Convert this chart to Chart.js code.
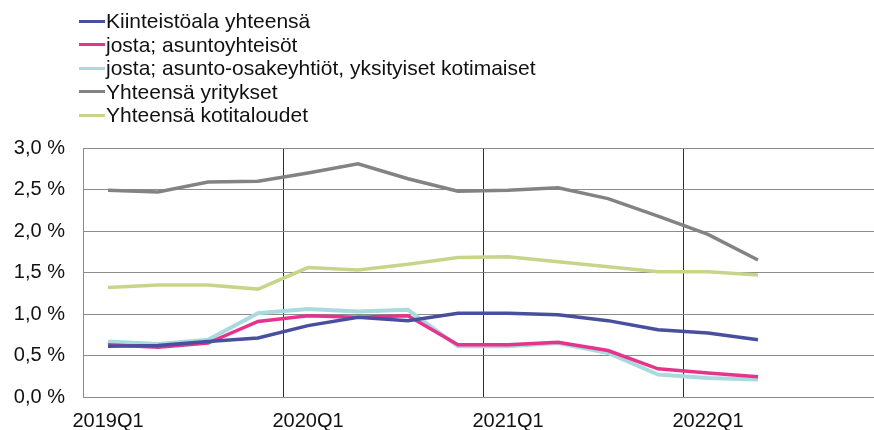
<!DOCTYPE html>
<html>
<head>
<meta charset="utf-8">
<script src="https://cdn.jsdelivr.net/npm/chart.js@4"></script>
<style>
    html, body { margin: 0; padding: 0; background: #fff; overflow: hidden; }
    #wrap { position: absolute; left: 0; top: 0; width: 900px; height: 430px; }
    #legend {
        position: absolute; left: 79px; top: 9px;
        font-family: "Liberation Sans", Arial, sans-serif; font-size: 21px; color: #111;
    }
    .item { height: 23.5px; line-height: 23.5px; white-space: nowrap; }
    .swatch { display: inline-block; width: 26px; height: 3px; vertical-align: middle; margin-right: 1px; position: relative; top: -1px; }
</style>
</head>
<body>
<div id="wrap">
    <canvas id="chart" width="900" height="430"></canvas>
</div>
<div id="legend"></div>
<script>
// quarters on the x axis (last two are empty)
const quarters = [
    "2019Q1", "2019Q2", "2019Q3", "2019Q4",
    "2020Q1", "2020Q2", "2020Q3", "2020Q4",
    "2021Q1", "2021Q2", "2021Q3", "2021Q4",
    "2022Q1", "2022Q2", "2022Q3", "2022Q4"
];

// series, percent
const kiinteistoala = [0.61, 0.62, 0.67, 0.71, 0.86, 0.96, 0.92, 1.01, 1.01, 0.99, 0.92, 0.81, 0.77, 0.69];
const asuntoyhteisot = [0.63, 0.60, 0.65, 0.91, 0.98, 0.96, 0.98, 0.63, 0.63, 0.66, 0.56, 0.34, 0.29, 0.245];
const asuntoOsakeyhtiot = [0.67, 0.64, 0.69, 1.01, 1.06, 1.03, 1.05, 0.61, 0.61, 0.65, 0.53, 0.27, 0.23, 0.21];
const yritykset = [2.49, 2.47, 2.59, 2.60, 2.70, 2.81, 2.63, 2.48, 2.49, 2.52, 2.39, 2.18, 1.96, 1.65];
const kotitaloudet = [1.32, 1.35, 1.35, 1.30, 1.56, 1.53, 1.60, 1.68, 1.69, 1.63, 1.57, 1.51, 1.51, 1.47];

const seriesNames = [
    "Kiinteistöala yhteensä",
    "josta; asuntoyhteisöt",
    "josta; asunto-osakeyhtiöt, yksityiset kotimaiset",
    "Yhteensä yritykset",
    "Yhteensä kotitaloudet"
];
const seriesColors = ["#484f9f", "#e6338b", "#a9dade", "#838383", "#c5d68b"];
const seriesData = [kiinteistoala, asuntoyhteisot, asuntoOsakeyhtiot, yritykset, kotitaloudet];

/* ===== LEGEND ===== */
const legend = document.getElementById("legend");
seriesNames.forEach((name, i) => {
    const row = document.createElement("div");
    row.className = "item";
    row.innerHTML = `<span class="swatch" style="background:${seriesColors[i]}"></span>${name}`;
    legend.appendChild(row);
});

/* ===== CHART ===== */
const font = { family: "'Liberation Sans', Arial, sans-serif", size: 20 };

// draw order: gray and green first, then blue, pink, light blue on top
const order = [3, 4, 0, 1, 2];

new Chart(document.getElementById("chart"), {
    type: "line",
    data: {
        labels: quarters,
        datasets: order.map(i => ({
            label: seriesNames[i],
            data: seriesData[i],
            borderColor: seriesColors[i],
            backgroundColor: seriesColors[i],
            borderWidth: i === 2 ? 4 : 3.5,
            pointRadius: 0,
            tension: 0,
            fill: false
        }))
    },
    options: {
        responsive: false,
        animation: false,
        layout: { padding: { top: 148, right: 17, left: 0, bottom: 0 } },
        plugins: { legend: { display: false }, tooltip: { enabled: false } },
        scales: {
            x: {
                offset: true,
                grid: {
                    offset: true,
                    drawTicks: false,
                    lineWidth: 1,
                    color: ctx => (ctx.index > 0 && ctx.index % 4 === 0) ? "#2e2e2e" : "rgba(0,0,0,0)"
                },
                border: { color: "#8c8c8c", width: 1 },
                ticks: {
                    autoSkip: false,
                    maxRotation: 0,
                    color: "#111",
                    font: font,
                    padding: 12,
                    callback: function (v, i) { return i % 4 === 0 ? quarters[i] : ""; }
                },
                afterFit: s => { s.height = 33; }
            },
            y: {
                min: 0,
                max: 3,
                grid: { drawTicks: false, color: "#8c8c8c", lineWidth: 1 },
                border: { color: "#8c8c8c", width: 1 },
                ticks: {
                    stepSize: 0.5,
                    color: "#111",
                    font: font,
                    padding: 18,
                    callback: v => v.toFixed(1).replace(".", ",") + " %"
                },
                afterFit: s => { s.width = 83; }
            }
        }
    }
});
</script>
</body>
</html>
